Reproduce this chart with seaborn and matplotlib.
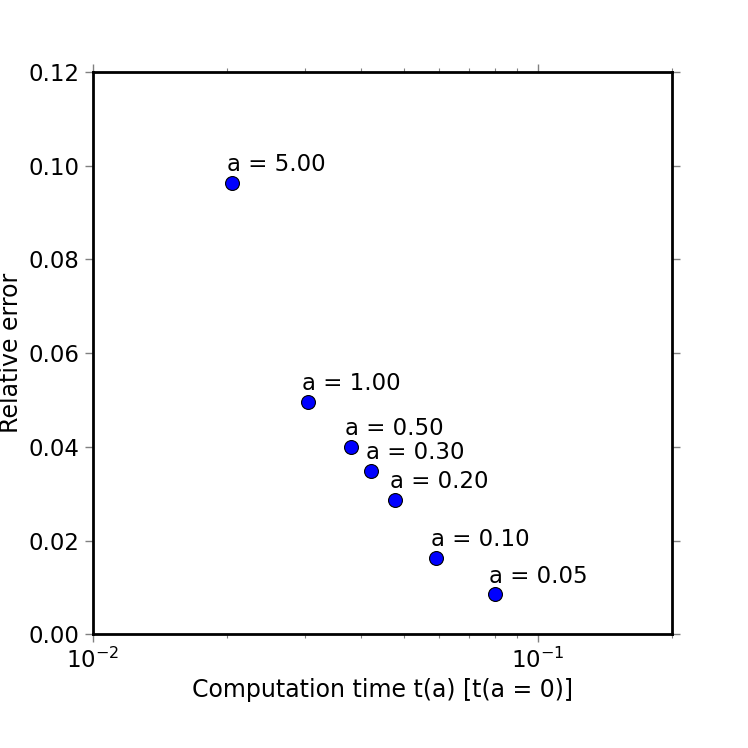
import numpy as np
import pandas as pd
import matplotlib
matplotlib.use("Agg")
import matplotlib.pyplot as plt
import seaborn as sns

# values
a_values = [5.00, 1.00, 0.50, 0.30, 0.20, 0.10, 0.05]
comp_time = [0.0206, 0.0304, 0.0380, 0.0423, 0.0479, 0.0591, 0.0801]
rel_error = [0.0963, 0.0495, 0.0399, 0.0348, 0.0286, 0.0162, 0.0085]

df = pd.DataFrame({"a": a_values, "t": comp_time, "err": rel_error})

sns.set_theme(style="white")
plt.rcParams["font.family"] = ["DejaVu Sans"]
plt.rcParams["text.color"] = "black"
plt.rcParams["axes.labelcolor"] = "black"
plt.rcParams["xtick.labelcolor"] = "black"
plt.rcParams["ytick.labelcolor"] = "black"

fig = plt.figure(figsize=(7.48, 7.48), dpi=100)
ax = fig.add_axes([0.124, 0.152, 0.774, 0.752])

sns.scatterplot(data=df, x="t", y="err", ax=ax, color="blue",
                edgecolor="black", linewidth=0.8, s=100, zorder=3)

for _, r in df.iterrows():
    ax.annotate(f"a = {r['a']:.2f}", (r["t"], r["err"]),
                xytext=(-4, 5), textcoords="offset points",
                ha="left", va="bottom", fontsize=16.5, color="black")

ax.set_xscale("log")
ax.set_xlim(0.01, 0.2)
ax.set_ylim(0, 0.12)
ax.set_yticks(np.arange(0, 0.121, 0.02))
ax.set_yticklabels([f"{v:.2f}" for v in np.arange(0, 0.121, 0.02)])

ax.set_xlabel("Computation time t(a) [t(a = 0)]", fontsize=17)
ax.set_ylabel("Relative error", fontsize=17)

for sp in ax.spines.values():
    sp.set_visible(True)
    sp.set_color("black")
    sp.set_linewidth(2)

ax.tick_params(which="both", direction="out", top=True, right=True,
               bottom=True, left=True, color="gray", labelsize=16.5)
ax.tick_params(which="major", length=6, width=1)
ax.tick_params(which="minor", length=3, width=0.8)

fig.savefig("out.png", dpi=100)
